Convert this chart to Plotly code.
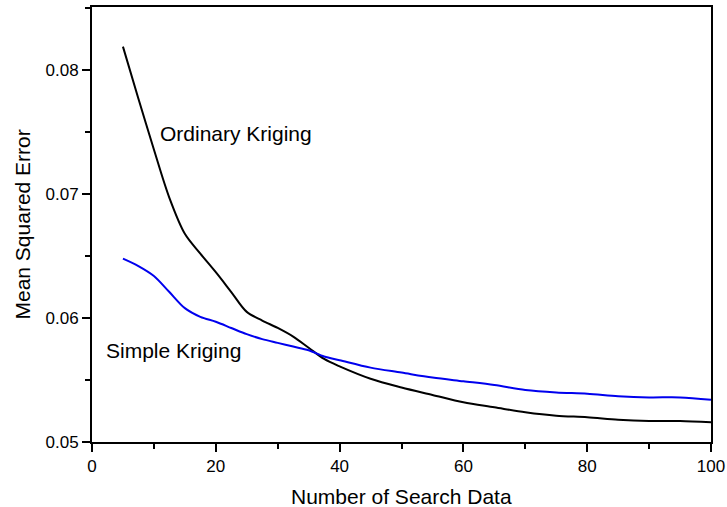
import plotly.graph_objects as go

x_vals = [5, 7.5, 10, 12.5, 15, 17.5, 20, 22.5, 25, 27.5, 30, 32.5, 35, 37.5, 40,
          45, 50, 55, 60, 65, 70, 75, 80, 85, 90, 95, 100]
ordinary = [0.0819, 0.0777, 0.0736, 0.0697, 0.0668, 0.0652, 0.0637, 0.0621, 0.0605, 0.0598,
            0.0592, 0.0585, 0.0576, 0.0567, 0.0561,
            0.0551, 0.0544, 0.0538, 0.0532, 0.0528, 0.0524, 0.05212, 0.0520, 0.0518, 0.0517, 0.0517, 0.0516]
simple = [0.0648, 0.0642, 0.0634, 0.0621, 0.0608, 0.0601, 0.0597, 0.0592, 0.0587, 0.0583,
          0.0580, 0.0577, 0.0574, 0.0569, 0.0566,
          0.0560, 0.0556, 0.0552, 0.0549, 0.0546, 0.0542, 0.0540, 0.0539, 0.0537, 0.0536, 0.0536, 0.0534]
x_ticks = [0, 20, 40, 60, 80, 100]
y_ticks = [0.05, 0.06, 0.07, 0.08]
y_tick_labels = ["0.05", "0.06", "0.07", "0.08"]

FONT = "Arial, Liberation Sans, sans-serif"

fig = go.Figure()
fig.add_trace(go.Scatter(x=x_vals, y=ordinary, mode="lines", name="Ordinary Kriging",
                         line=dict(color="black", width=2, shape="spline", smoothing=0.9)))
fig.add_trace(go.Scatter(x=x_vals, y=simple, mode="lines", name="Simple Kriging",
                         line=dict(color="#0000ee", width=2, shape="spline", smoothing=0.9)))

fig.add_annotation(x=23.3, y=0.0749, text="Ordinary Kriging", showarrow=False,
                   font=dict(family=FONT, size=21, color="black"))
fig.add_annotation(x=13.2, y=0.0574, text="Simple Kriging", showarrow=False,
                   font=dict(family=FONT, size=21, color="black"))

# axis titles
fig.add_annotation(xref="paper", yref="paper", x=0.5, y=0, yanchor="middle", yshift=-54,
                   text="Number of Search Data", showarrow=False,
                   font=dict(family=FONT, size=21, color="black"))
fig.add_annotation(xref="paper", yref="paper", x=0, y=0.5, xanchor="center", xshift=-70,
                   text="Mean Squared Error", textangle=-90, showarrow=False,
                   font=dict(family=FONT, size=21, color="black"))

fig.update_layout(
    width=727, height=507,
    margin=dict(l=92, r=16, t=7, b=65, autoexpand=False),
    paper_bgcolor="white", plot_bgcolor="white",
    showlegend=False,
    font=dict(family=FONT, color="black"),
)
fig.update_xaxes(
    range=[0, 100], tickvals=x_ticks, ticks="outside", ticklen=8, tickwidth=1.5,
    minor=dict(dtick=10, ticks="outside", ticklen=5, tickwidth=1.5, tickcolor="black"),
    showline=True, linecolor="black", linewidth=2, mirror=True, showgrid=False, zeroline=False,
    tickfont=dict(size=17, family=FONT), tickcolor="black", automargin=False,
)
fig.update_yaxes(
    range=[0.05, 0.0851], tickvals=y_ticks, ticktext=y_tick_labels, ticks="outside", ticklen=8, tickwidth=1.5,
    minor=dict(dtick=0.005, ticks="outside", ticklen=5, tickwidth=1.5, tickcolor="black"),
    showline=True, linecolor="black", linewidth=2, mirror=True, showgrid=False, zeroline=False,
    tickfont=dict(size=17, family=FONT), tickcolor="black", automargin=False,
)

fig.write_html("out.html", config={"displayModeBar": False},
               post_script="document.body.style.margin='0';document.body.style.overflow='hidden';")
